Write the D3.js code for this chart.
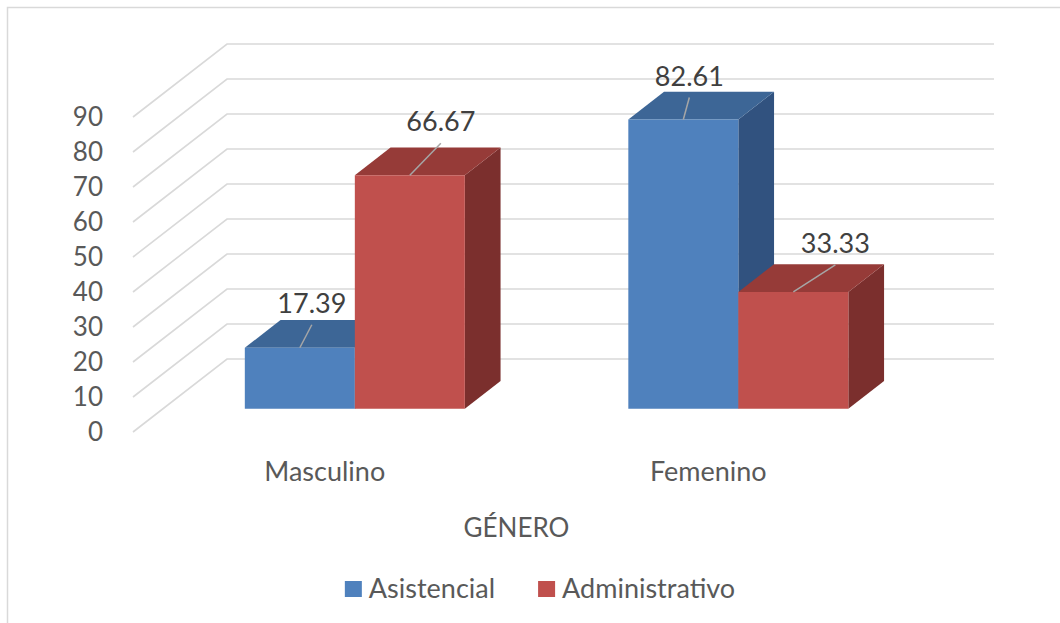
<!DOCTYPE html>
<html>
<head>
<meta charset="utf-8">
<script src="https://cdn.jsdelivr.net/npm/d3@7"></script>
<style>
  body { margin: 0; background: #fff; }
  svg text { font-family: Lato, "Open Sans", sans-serif; }
</style>
</head>
<body>
<div id="chart"></div>
<script>
// data
const categories = ['Masculino', 'Femenino'];
const series = ['Asistencial', 'Administrativo'];
const asistencial = [17.39, 82.61];
const administrativo = [66.67, 33.33];
const yTicks = [0, 10, 20, 30, 40, 50, 60, 70, 80, 90];
const axisTitle = 'GÉNERO';

const width = 1060;
const height = 623;

// oblique 3d: full depth of the floor moves points by (depthX, depthY)
const depthX = 94;
const depthY = -73;
const barNear = 0.32;
const barFar = 0.70;

const colors = {
  Asistencial: { front: '#4F81BD', top: '#3D6696', side: '#31527F' },
  Administrativo: { front: '#C0504D', top: '#963B38', side: '#7B2F2D' }
};

// hand placed labels in the original, offsets from the bar's top front centre
const labelShift = [[12, -23], [31, -32], [6, -22], [42, -27]];

const svg = d3.select('#chart')
  .append('svg')
  .attr('width', width)
  .attr('height', height);

svg.append('rect')
  .attr('x', 7.5).attr('y', 7.5)
  .attr('width', 1100).attr('height', 700)
  .attr('fill', 'none')
  .attr('stroke', '#D9D9D9')
  .attr('stroke-width', 1.5);

const x0 = d3.scaleBand().domain(categories).range([133, 900]);
const x1 = d3.scaleBand().domain(series).range([0, x0.bandwidth()])
  .paddingInner(0).paddingOuter(0.743);
const y = d3.scaleLinear().domain([0, 90]).range([432, 117]);

function proj(x, v, d) {
  return [x + depthX * d, y(v) + depthY * d];
}

// walls: diagonal gridlines on the side wall, horizontal on the back wall
const grid = svg.append('g')
  .attr('stroke', '#D9D9D9')
  .attr('stroke-width', 1.6)
  .attr('fill', 'none');
yTicks.forEach(t => {
  const a = proj(x0.range()[0], t, 0);
  const b = proj(x0.range()[0], t, 1);
  const c = proj(x0.range()[1], t, 1);
  grid.append('path').attr('d', d3.line()([a, b, c]));
});

svg.append('g')
  .selectAll('text')
  .data(yTicks)
  .enter()
  .append('text')
  .attr('x', 103)
  .attr('y', d => y(d))
  .attr('dy', '0.35em')
  .attr('text-anchor', 'end')
  .attr('font-size', 26)
  .attr('fill', '#595959')
  .text(d => d);

// bars, drawn left to right so later faces hide earlier sides
const bars = [];
categories.forEach((cat, ci) => {
  series.forEach((s, si) => {
    const v = si === 0 ? asistencial[ci] : administrativo[ci];
    bars.push({ cat, s, v });
  });
});

const barG = svg.append('g');
bars.forEach(b => {
  const xl = x0(b.cat) + x1(b.s);
  const xr = xl + x1.bandwidth();
  const c = colors[b.s];
  const fbl = proj(xl, 0, barNear), fbr = proj(xr, 0, barNear);
  const ftl = proj(xl, b.v, barNear), ftr = proj(xr, b.v, barNear);
  const btl = proj(xl, b.v, barFar), btr = proj(xr, b.v, barFar);
  const bbr = proj(xr, 0, barFar);
  const poly = pts => d3.line()(pts) + 'Z';
  barG.append('path').attr('d', poly([fbr, ftr, btr, bbr])).attr('fill', c.side);
  barG.append('path').attr('d', poly([ftl, btl, btr, ftr])).attr('fill', c.top);
  barG.append('path').attr('d', poly([fbl, ftl, ftr, fbr])).attr('fill', c.front);
});

// data labels with leader lines
const lab = svg.append('g');
bars.forEach((b, i) => {
  const xc = x0(b.cat) + x1(b.s) + x1.bandwidth() / 2;
  const start = proj(xc, b.v, barNear);
  const end = [start[0] + labelShift[i][0], start[1] + labelShift[i][1]];
  lab.append('line')
    .attr('x1', start[0]).attr('y1', start[1])
    .attr('x2', end[0]).attr('y2', end[1])
    .attr('stroke', '#A6A6A6')
    .attr('stroke-width', 1.5);
  lab.append('text')
    .attr('x', end[0])
    .attr('y', end[1] - 12)
    .attr('text-anchor', 'middle')
    .attr('font-size', 27)
    .attr('fill', '#404040')
    .text(b.v.toFixed(2));
});

// category labels and title
svg.append('g')
  .selectAll('text')
  .data(categories)
  .enter()
  .append('text')
  .attr('x', d => x0(d) + x0.bandwidth() / 2)
  .attr('y', 481)
  .attr('text-anchor', 'middle')
  .attr('font-size', 27)
  .attr('fill', '#595959')
  .text(d => d);

svg.append('text')
  .attr('x', (x0.range()[0] + x0.range()[1]) / 2)
  .attr('y', 537)
  .attr('text-anchor', 'middle')
  .attr('font-size', 26)
  .attr('fill', '#595959')
  .text(axisTitle);

// legend, centred
const legend = svg.append('g');
let lx = 0;
series.forEach((s, i) => {
  const item = legend.append('g').attr('transform', `translate(${lx},0)`);
  item.append('rect')
    .attr('x', 0).attr('y', -17)
    .attr('width', 17).attr('height', 16)
    .attr('fill', colors[s].front);
  const t = item.append('text')
    .attr('x', 24).attr('y', 0)
    .attr('font-size', 27)
    .attr('fill', '#595959')
    .text(s);
  lx += 24 + t.node().getComputedTextLength() + 43;
});
const legendW = lx - 43;
legend.attr('transform', `translate(${540 - legendW / 2},598)`);
</script>
</body>
</html>
